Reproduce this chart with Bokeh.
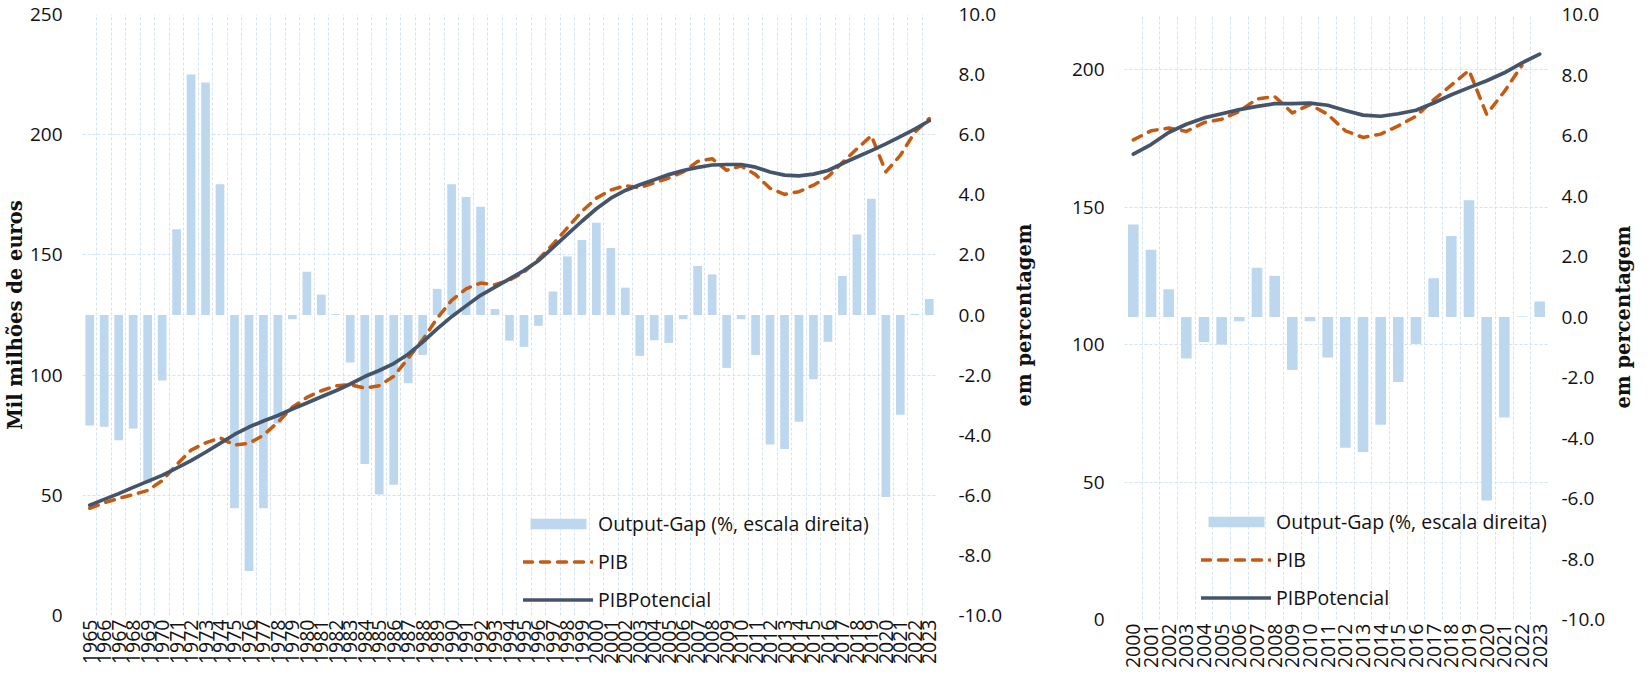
import math
from bokeh.plotting import figure
from bokeh.models import (Range1d, LinearAxis, FixedTicker, PrintfTickFormatter,
                          Legend, LegendItem)
from bokeh.layouts import row
from bokeh.embed import file_html
from bokeh.resources import INLINE

# ---------------- data: left chart (1965-2023) ----------------
years_l = list(range(1965, 2024))
gap_l = [-3.68, -3.72, -4.17, -3.78, -5.6, -2.18, 2.85, 8.0, 7.74, 4.35,
         -6.43, -8.52, -6.43, -3.61, -0.14, 1.44, 0.68, 0.03, -1.58, -4.96,
         -5.97, -5.65, -2.27, -1.33, 0.87, 4.35, 3.93, 3.6, 0.2, -0.85,
         -1.06, -0.36, 0.78, 1.95, 2.5, 3.07, 2.23, 0.91, -1.36, -0.84,
         -0.93, -0.14, 1.63, 1.35, -1.76, -0.14, -1.33, -4.31, -4.46, -3.55,
         -2.14, -0.89, 1.3, 2.68, 3.87, -6.06, -3.32, 0.03, 0.53]
pib_l = [44.6, 46.9, 48.7, 50.3, 52.0, 56.1, 62.7, 68.8, 71.8, 73.9,
         70.9, 71.6, 75.0, 80.4, 86.6, 90.7, 93.5, 95.5, 96.0, 94.6,
         95.6, 99.5, 107.0, 114.7, 123.6, 131.1, 135.9, 138.3, 137.6, 139.6,
         142.8, 148.2, 154.4, 161.3, 168.1, 173.6, 177.0, 178.8, 178.0, 180.0,
         182.0, 184.5, 188.9, 190.0, 185.2, 187.0, 183.4, 177.7, 175.2, 176.3,
         179.0, 182.5, 188.4, 194.1, 199.6, 184.5, 191.4, 201.0, 206.7]
pot_l = [45.9, 48.3, 50.7, 53.3, 55.8, 58.3, 61.3, 64.4, 67.9, 71.6,
         75.3, 78.4, 80.9, 83.2, 85.9, 88.4, 91.0, 93.5, 96.3, 99.4,
         101.9, 104.8, 108.7, 113.7, 119.2, 124.3, 128.8, 133.2, 136.6, 140.0,
         143.5, 147.6, 153.0, 158.5, 164.0, 169.2, 173.6, 176.8, 179.2, 181.3,
         183.4, 185.1, 186.4, 187.4, 187.6, 187.6, 186.5, 184.5, 183.2, 182.9,
         183.6, 185.1, 188.0, 190.7, 193.4, 196.2, 199.2, 202.3, 205.8]

# ---------------- data: right chart (2000-2023) ----------------
years_r = list(range(2000, 2024))
gap_r = [3.06, 2.22, 0.92, -1.37, -0.83, -0.91, -0.14, 1.63, 1.36, -1.75,
         -0.14, -1.34, -4.32, -4.46, -3.56, -2.15, -0.89, 1.28, 2.68, 3.86,
         -6.07, -3.32, 0.02, 0.51]
pib_years_r = list(range(2000, 2023))
pib_r = [174.4, 177.7, 178.7, 177.5, 180.7, 181.9, 184.8, 189.3, 190.2, 184.2,
         187.2, 183.7, 177.7, 175.3, 176.5, 179.5, 183.0, 189.0, 194.3, 199.7,
         183.7, 192.0, 201.5]
pot_r = [169.2, 172.7, 177.1, 180.1, 182.4, 183.9, 185.4, 186.6, 187.6, 187.6,
         187.8, 187.0, 185.1, 183.4, 183.0, 183.9, 185.2, 187.8, 190.8, 193.4,
         195.9, 198.8, 202.4, 205.6]

left_ticks_l = [0, 50, 100, 150, 200, 250]
left_ticks_r = [0, 50, 100, 150, 200]
pct_ticks = [-10, -8, -6, -4, -2, 0, 2, 4, 6, 8, 10]

LBL_GAP = "Output-Gap (%, escala direita)"
LBL_PIB = "PIB"
LBL_POT = "PIBPotencial"
TITLE_L = "Mil milhões de euros"
TITLE_R = "em percentagem"

FONT = "Open Sans"
TFONT = "DejaVu Serif"
BAR_C = "#bdd7ee"
PIB_C = "#c55a11"
POT_C = "#44546a"
GRID_C = "#d3e3f3"
TXT_C = "#111111"


def style_title(ax, text, standoff):
    ax.axis_label = text
    ax.axis_label_text_font = TFONT
    ax.axis_label_text_font_style = "bold"
    ax.axis_label_text_font_size = "19.5px"
    ax.axis_label_text_color = TXT_C
    ax.axis_label_standoff = standoff


def make(years, gap, pib_years, pib, pot, ymax, yticks, fw, fh, borders,
         leg_loc, ystand, rstand, left_title):
    bl, br, bt, bb = borders
    x0, x1 = years[0] - 0.5, years[-1] + 0.5
    p = figure(frame_width=fw, frame_height=fh, output_backend="svg",
               toolbar_location=None, x_range=Range1d(x0, x1),
               y_range=Range1d(0, ymax),
               min_border_left=bl, min_border_right=br,
               min_border_top=bt, min_border_bottom=bb)
    p.extra_y_ranges = {"pct": Range1d(-10, 10)}
    p.outline_line_color = None
    p.background_fill_color = "white"
    p.border_fill_color = "white"

    # grids
    p.xgrid.ticker = FixedTicker(ticks=[y - 0.5 for y in years] + [years[-1] + 0.5])
    p.ygrid.ticker = FixedTicker(ticks=yticks)
    for g in (p.xgrid, p.ygrid):
        g.grid_line_color = GRID_C
        g.grid_line_width = 1
        g.grid_line_dash = "3 2"

    # bottom axis
    xa = p.xaxis[0]
    xa.ticker = FixedTicker(ticks=years)
    xa.major_label_orientation = math.pi / 2
    xa.major_label_standoff = 4
    # left axis
    ya = p.yaxis[0]
    ya.ticker = FixedTicker(ticks=yticks)
    ya.major_label_standoff = ystand
    # right axis
    ra = LinearAxis(y_range_name="pct", ticker=FixedTicker(ticks=pct_ticks),
                    formatter=PrintfTickFormatter(format="%.1f"))
    ra.major_label_standoff = rstand
    p.add_layout(ra, "right")
    for ax in (xa, ya, ra):
        ax.axis_line_color = None
        ax.major_tick_line_color = None
        ax.minor_tick_line_color = None
        ax.major_tick_out = 0
        ax.major_label_text_font = FONT
        ax.major_label_text_font_size = "19px"
        ax.major_label_text_color = TXT_C
    xa.major_label_text_font_size = "19.5px"

    if left_title:
        style_title(ya, TITLE_L, 0)

    bars = p.vbar(x=years, top=gap, bottom=0, width=0.6, y_range_name="pct",
                  fill_color=BAR_C, line_color=None)
    lp = p.line(x=pib_years, y=pib, line_color=PIB_C, line_width=3.5,
                line_dash="9 8", line_cap="round", line_join="round")
    lq = p.line(x=years, y=pot, line_color=POT_C, line_width=3.7,
                line_cap="round", line_join="round")

    leg = Legend(items=[LegendItem(label=LBL_GAP, renderers=[bars]),
                        LegendItem(label=LBL_PIB, renderers=[lp]),
                        LegendItem(label=LBL_POT, renderers=[lq])],
                 location=leg_loc, orientation="vertical",
                 glyph_width=70, glyph_height=13, label_height=24,
                 spacing=11, padding=0, margin=0, label_standoff=5,
                 border_line_color=None, background_fill_alpha=0,
                 label_text_font=FONT, label_text_font_size="19.5px",
                 label_text_color=TXT_C)
    p.add_layout(leg)
    return p


def title_strip(fh, bt, bb, bl, standoff):
    # narrow companion figure that only carries the right-hand axis title
    t = figure(frame_width=1, frame_height=fh, output_backend="svg",
               toolbar_location=None, x_range=Range1d(0, 1),
               y_range=Range1d(0, 1), min_border_left=bl, min_border_right=0,
               min_border_top=bt, min_border_bottom=bb)
    t.xaxis.visible = False
    t.xgrid.visible = False
    t.ygrid.visible = False
    t.outline_line_color = None
    t.background_fill_color = "white"
    t.border_fill_color = "white"
    ya = t.yaxis[0]
    ya.ticker = FixedTicker(ticks=[])
    ya.axis_line_color = None
    ya.major_tick_line_color = None
    ya.minor_tick_line_color = None
    ya.major_tick_out = 0
    ya.major_label_standoff = 0
    style_title(ya, TITLE_R, standoff)
    return t


p1 = make(years_l, gap_l, years_l, pib_l, pot_l, 250, left_ticks_l,
          854, 601, (78, 68, 14, 55), (441, 2), 20, 22, True)
t1 = title_strip(601, 14, 55, 30, 0)
p2 = make(years_r, gap_r, pib_years_r, pib_r, pot_r, 220, left_ticks_r,
          424, 605, (88, 57, 14, 51), (77, 8), 20, 13, False)
t2 = title_strip(605, 14, 51, 24, 0)

layout = row(p1, t1, p2, t2)
open("out.html", "w").write(file_html(layout, INLINE))
